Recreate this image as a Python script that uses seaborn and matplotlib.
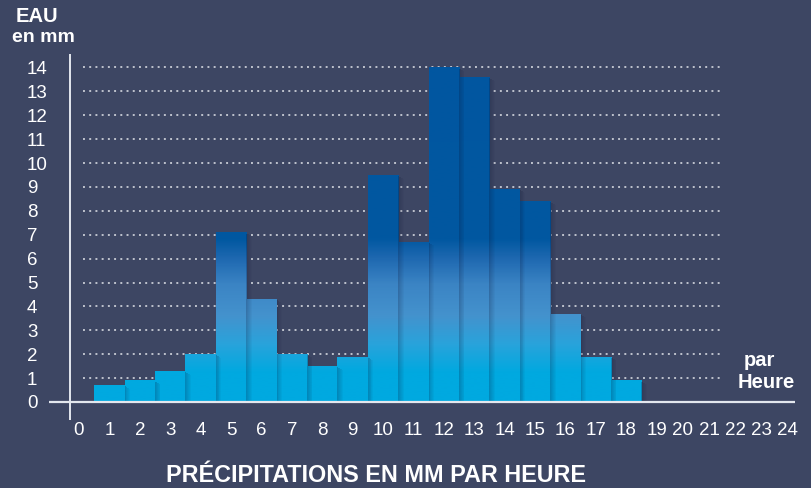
import numpy as np
import pandas as pd
import matplotlib
matplotlib.use("Agg")
import matplotlib.pyplot as plt
import seaborn as sns
from matplotlib.colors import LinearSegmentedColormap
from matplotlib.patches import Rectangle

# valeurs
heures = list(range(1, 19))
eau_mm = [0.7, 0.9, 1.3, 2.0, 7.1, 4.3, 2.0, 1.5, 1.9, 9.5, 6.7, 14.0, 13.6, 8.9, 8.4, 3.7, 1.9, 0.9]
graduations_y = list(range(0, 15))
graduations_x = list(range(0, 25))

fond = "#3d4663"
blanc = "#ffffff"

sns.set_theme(style="white")
plt.rcParams['font.family'] = ['Liberation Sans', 'DejaVu Sans']

df = pd.DataFrame({'heure': heures, 'eau': eau_mm})

W, H = 811, 488
fig = plt.figure(figsize=(W / 100, H / 100), dpi=100, facecolor=fond)

# geometrie en pixels : origine (0, 0) en (79, 402), 30.4 px par heure, 23.9 px par mm
x_lim = (-1.0, 24.5)
y_lim = (-0.335, 15.15)
coupure, ratio = 19, 0.862


def fwd(x):
    x = np.asarray(x, float)
    return np.where(x <= coupure, x, coupure + (x - coupure) * ratio)


def inv(x):
    x = np.asarray(x, float)
    return np.where(x <= coupure, x, coupure + (x - coupure) / ratio)


px_x, px_y = 30.4, 23.9
left_px = 79 + x_lim[0] * px_x
right_px = 79 + float(fwd(x_lim[1])) * px_x
bottom_px = 402 - y_lim[0] * px_y
top_px = 402 - y_lim[1] * px_y
ax = fig.add_axes([left_px / W, (H - bottom_px) / H,
                   (right_px - left_px) / W, (bottom_px - top_px) / H])
ax.set_facecolor(fond)

sns.barplot(data=df, x='heure', y='eau', native_scale=True, width=1.0,
            color="#0158a1", edgecolor='none', linewidth=0, ax=ax, zorder=2)

# degrade vertical, en fonction de la hauteur absolue
cmap = LinearSegmentedColormap.from_list('eau', [
    (0.0, '#00a9e0'), (1.2 / 15, '#00a9e0'), (2.4 / 15, '#29a3db'),
    (3.6 / 15, '#4492cd'), (4.9 / 15, '#3b84c4'), (6.0 / 15, '#1e68b0'),
    (6.8 / 15, '#0158a1'), (1.0, '#0156a0')])
grad = np.linspace(y_lim[0], y_lim[1], 600).reshape(-1, 1)
for patch in list(ax.patches):
    im = ax.imshow(grad, cmap=cmap, vmin=0, vmax=15, aspect='auto', origin='lower',
                   extent=(0, 1, 0, 1), transform=ax.transAxes, zorder=2,
                   interpolation='bilinear')
    im.set_clip_path(patch)
    patch.set_facecolor('none')

# ombre portee douce a droite de chaque barre
n_pas, pas = 6, 0.03
for h, v in zip(heures, eau_mm):
    for k in range(n_pas):
        ax.add_patch(Rectangle((h + 0.5 + k * pas, 0), pas, v - 0.05 - k * 0.02,
                               facecolor='#0a1030', alpha=0.22 * (1 - k / n_pas),
                               linewidth=0, zorder=3))

ax.set_xscale('function', functions=(fwd, inv))
ax.set_xlim(*x_lim)
ax.set_ylim(*y_lim)

# lignes pointillees
ax.hlines(graduations_y[1:], 0.13, 21.5, colors='#bfc3cd', linestyles=(0, (1, 2.2)),
          linewidth=1.4, zorder=1)
# axes
ax.hlines(0, -1.0, 24.3, colors='#e3e7ee', linewidth=1.6, zorder=4, clip_on=False)
ax.vlines(-0.3, -0.75, 14.56, colors='#e3e7ee', linewidth=1.4, zorder=4, clip_on=False)

for s in ax.spines.values():
    s.set_visible(False)

ax.set_yticks(graduations_y)
ax.set_yticklabels([str(v) for v in graduations_y])
ax.tick_params(axis='y', length=0, pad=15.5, labelsize=13.5, labelcolor=blanc)
for lbl in ax.get_yticklabels():
    lbl.set_horizontalalignment('left')

ax.set_xticks(graduations_x)
ax.set_xticklabels([str(v) for v in graduations_x])
ax.tick_params(axis='x', length=0, pad=8.6, labelsize=13.5, labelcolor=blanc)
ax.set_xlabel('')
ax.set_ylabel('')


def txt(xp, yp, s, size, **kw):
    fig.text(xp / W, 1 - yp / H, s, color=blanc, fontsize=size, fontweight='bold',
             ha='center', va='center', **kw)


txt(37, 16, "EAU", 14.5)
txt(43, 38, "en mm", 14)
txt(759, 361, "par", 14.5)
txt(766, 382, "Heure", 14.5)
txt(376, 475, "PRÉCIPITATIONS EN MM PAR HEURE", 16.8)

fig.savefig("out.png", dpi=100, facecolor=fond)
